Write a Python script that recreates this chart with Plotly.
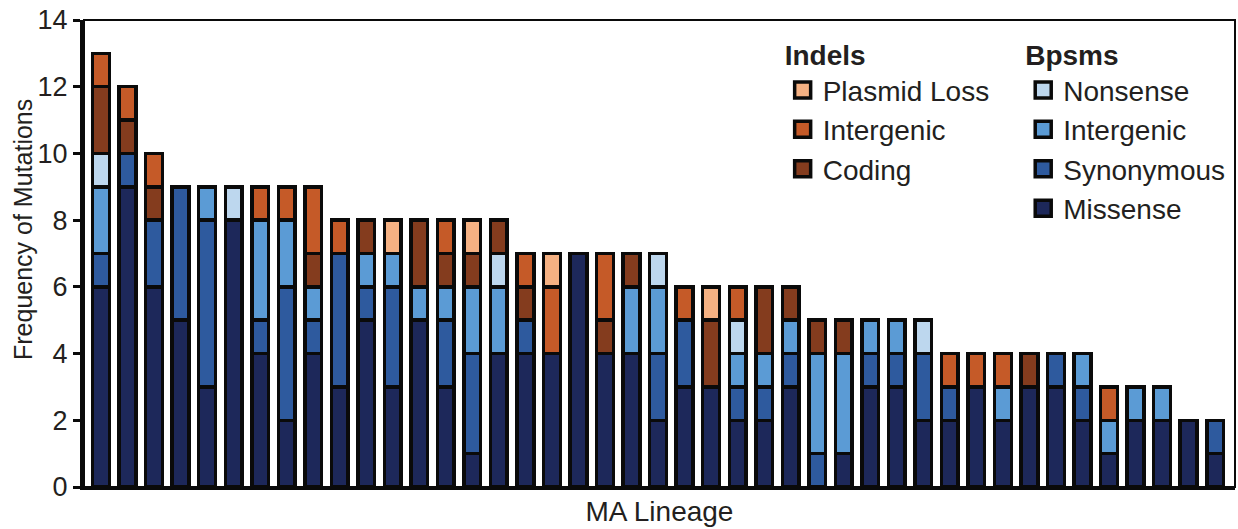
import plotly.graph_objects as go

lineages = [str(i) for i in range(1, 44)]

missense     = [6,9,6,5,3,8,4,2,4,3,5,3,5,3,1,4,4,4,7,4,4,2,3,3,2,2,3,0,1,3,3,2,2,3,2,3,3,2,1,2,2,2,1]
synonymous   = [1,1,2,4,5,0,1,4,1,4,1,3,0,2,3,0,1,0,0,0,0,2,2,0,1,1,1,1,0,1,1,2,1,0,0,0,1,1,0,0,0,0,1]
bpsm_interg  = [2,0,0,0,1,0,3,2,1,0,1,1,1,1,2,2,0,0,0,0,2,2,0,0,1,1,1,3,3,1,1,0,0,0,1,0,0,1,1,1,1,0,0]
nonsense     = [1,0,0,0,0,1,0,0,0,0,0,0,0,0,0,1,0,0,0,0,0,1,0,0,1,0,0,0,0,0,0,1,0,0,0,0,0,0,0,0,0,0,0]
coding       = [2,1,1,0,0,0,0,0,1,0,1,0,2,1,1,1,1,0,0,1,1,0,0,2,0,2,1,1,1,0,0,0,0,0,0,1,0,0,0,0,0,0,0]
indel_interg = [1,1,1,0,0,0,1,1,2,1,0,0,0,1,0,0,1,2,0,2,0,0,1,0,1,0,0,0,0,0,0,0,1,1,1,0,0,0,1,0,0,0,0]
plasmid_loss = [0,0,0,0,0,0,0,0,0,0,0,1,0,0,1,0,0,1,0,0,0,0,0,1,0,0,0,0,0,0,0,0,0,0,0,0,0,0,0,0,0,0,0]

series = [
    ("Missense", missense, "#1D285A", "legend2"),
    ("Synonymous", synonymous, "#2E5A9E", "legend2"),
    ("Intergenic", bpsm_interg, "#5B9BD5", "legend2"),
    ("Nonsense", nonsense, "#BDD7EE", "legend2"),
    ("Coding", coding, "#843C1E", "legend"),
    ("Intergenic", indel_interg, "#C55A28", "legend"),
    ("Plasmid Loss", plasmid_loss, "#F5B183", "legend"),
]

FONT = "Liberation Sans, Arial, Helvetica, sans-serif"
TXT = "#231F20"
fig = go.Figure()

for name, vals, color, lg in series:
    fig.add_trace(go.Bar(
        x=lineages, y=[v if v else None for v in vals], name=name,
        marker=dict(color=color, line=dict(color="#0A0A0A", width=3.5)),
        showlegend=False,
    ))

# legend entries (top-to-bottom order as in reference)
legend_order = [series[6], series[5], series[4], series[3], series[2], series[1], series[0]]
for name, vals, color, lg in legend_order:
    fig.add_trace(go.Scatter(
        x=[None], y=[None], mode="markers", name=name, legend=lg,
        marker=dict(symbol="square", size=16, color=color,
                    line=dict(color="#0A0A0A", width=3.5)),
        showlegend=True, hoverinfo="skip",
    ))

legend_common = dict(
    font=dict(family=FONT, size=28, color=TXT),
    bgcolor="rgba(0,0,0,0)", borderwidth=0, traceorder="normal",
    itemsizing="trace", xanchor="left", yanchor="top", itemclick=False,
)

fig.update_layout(
    width=1238, height=529,
    margin=dict(l=84, r=3, t=20, b=42, autoexpand=False),
    paper_bgcolor="white", plot_bgcolor="white",
    barmode="stack", bargap=0.37,
    font=dict(family=FONT, color=TXT),
    legend=dict(title=dict(text="<b>Indels</b>", font=dict(family=FONT, size=28, color=TXT)),
                x=0.607, y=0.981, **legend_common),
    legend2=dict(title=dict(text="<b>Bpsms</b>", font=dict(family=FONT, size=28, color=TXT)),
                 x=0.816, y=0.981, **legend_common),
    xaxis=dict(
        type="category", range=[-0.64, 42.75], showticklabels=False, ticks="",
        showgrid=False, zeroline=False, showline=True, linecolor="#0A0A0A", linewidth=3,
        automargin=False,
        title=dict(text="MA Lineage", font=dict(family=FONT, size=28, color=TXT), standoff=13),
    ),
    yaxis=dict(
        range=[0, 14], dtick=2, tick0=0, ticks="outside", ticklen=7, tickwidth=3,
        tickcolor="#0A0A0A", showgrid=False, zeroline=False, showline=True,
        linecolor="#0A0A0A", linewidth=4, automargin=False, ticklabeloverflow="allow",
        tickfont=dict(family=FONT, size=27, color=TXT),
    ),
    annotations=[dict(
        text="Frequency of Mutations", textangle=-90, showarrow=False,
        xref="paper", yref="paper", x=0, y=(487 - 230) / 467, xshift=-61,
        xanchor="center", yanchor="middle",
        font=dict(family=FONT, size=25, color=TXT),
    )],
    shapes=[dict(type="rect", xref="paper", yref="paper", x0=0, x1=1, y0=0, y1=1,
                 line=dict(color="#0A0A0A", width=2), layer="below")],
)

# remove the browser's default 8px page margin so the 1238x529 figure fills the window
fig.write_html("out.html", config={"displayModeBar": False},
               post_script="document.body.style.margin='0';document.body.style.overflow='hidden';")
